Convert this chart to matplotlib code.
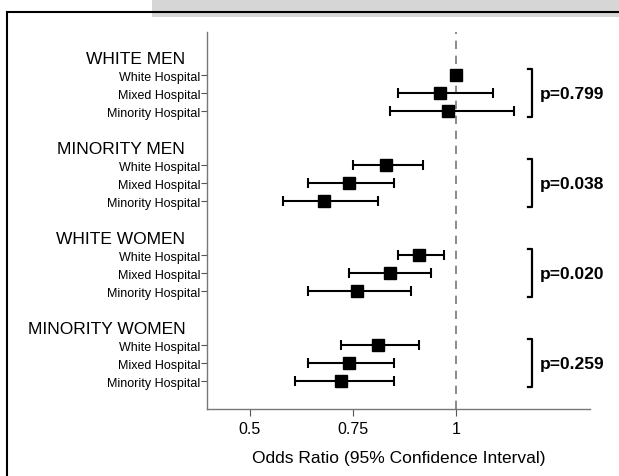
import numpy as np
import matplotlib
matplotlib.use("Agg")
import matplotlib.pyplot as plt
from matplotlib.patches import Rectangle

plt.rcParams['font.family'] = ['Liberation Sans', 'DejaVu Sans']

groups = ["WHITE MEN", "MINORITY MEN", "WHITE WOMEN", "MINORITY WOMEN"]
hospitals = ["White Hospital", "Mixed Hospital", "Minority Hospital"]
p_values = ["p=0.799", "p=0.038", "p=0.020", "p=0.259"]

# odds ratios and 95% CI, one list per group (white, mixed, minority hospital)
or_est = [[1.00, 0.96, 0.98],
          [0.83, 0.74, 0.68],
          [0.91, 0.84, 0.76],
          [0.81, 0.74, 0.72]]
ci_low = [[1.00, 0.86, 0.84],
          [0.75, 0.64, 0.58],
          [0.86, 0.74, 0.64],
          [0.72, 0.64, 0.61]]
ci_high = [[1.00, 1.09, 1.14],
           [0.92, 0.85, 0.81],
           [0.97, 0.94, 0.89],
           [0.91, 0.85, 0.85]]

xticks = [0.5, 0.75, 1.0]
xticklabels = ["0.5", "0.75", "1"]

fig = plt.figure(figsize=(6.19, 4.77), dpi=100)

# frame and grey strip at the top, as in the original page
fig.patches.append(Rectangle((152/619, 1-18/477), 1, 18/477, transform=fig.transFigure,
                             facecolor='#d6d6d6', edgecolor='none', zorder=0))
fig.patches.append(Rectangle((7/619, -0.1), 1.2, 1.1 - 13/477, transform=fig.transFigure,
                             facecolor='none', edgecolor='black', linewidth=1.5, zorder=1))

ax = fig.add_axes([207/619, 67/477, 383/619, 377/477])

ypos = []
ylabels = []
for g in range(len(groups)):
    rows = [5*g + 1 + i for i in range(3)]
    ypos += rows
    ylabels += hospitals
    est = np.array(or_est[g])
    lo = np.array(ci_low[g])
    hi = np.array(ci_high[g])
    ax.errorbar(est, rows, xerr=[est - lo, hi - est], fmt='s', color='black',
                markersize=8, elinewidth=1.5, capsize=3.5, capthick=1.5, zorder=3)
    ax.text(-0.057, 5*g + 0.05, groups[g], transform=ax.get_yaxis_transform(),
            ha='right', va='center', fontsize=12.5)
    # bracket with p-value
    yt, yb = rows[0] - 0.35, rows[-1] + 0.35
    ax.plot([1.175, 1.185, 1.185, 1.175], [yt, yt, yb, yb], color='black',
            linewidth=1.6, clip_on=False)
    ax.text(1.203, rows[1], p_values[g], ha='left', va='center',
            fontsize=12.5, fontweight='bold')

ax.axvline(1.0, color='#777777', linestyle=(0, (5, 4)), linewidth=1.2, zorder=1)

ax.set_xlim(0.396, 1.325)
ax.set_ylim(19.55, -1.4)
ax.set_yticks(ypos)
ax.set_yticklabels(ylabels, fontsize=9)
ax.set_xticks(xticks)
ax.set_xticklabels(xticklabels, fontsize=11.5)
ax.tick_params(axis='y', length=4, width=0.8, color='#555555', pad=1)
ax.tick_params(axis='x', length=5, width=0.8, color='#555555', pad=4)
ax.set_xlabel("Odds Ratio (95% Confidence Interval)", fontsize=12.5, labelpad=10)

for side in ['top', 'right']:
    ax.spines[side].set_visible(False)
for side in ['left', 'bottom']:
    ax.spines[side].set_color('#777777')
    ax.spines[side].set_linewidth(1.0)

fig.savefig("out.png", dpi=100)
